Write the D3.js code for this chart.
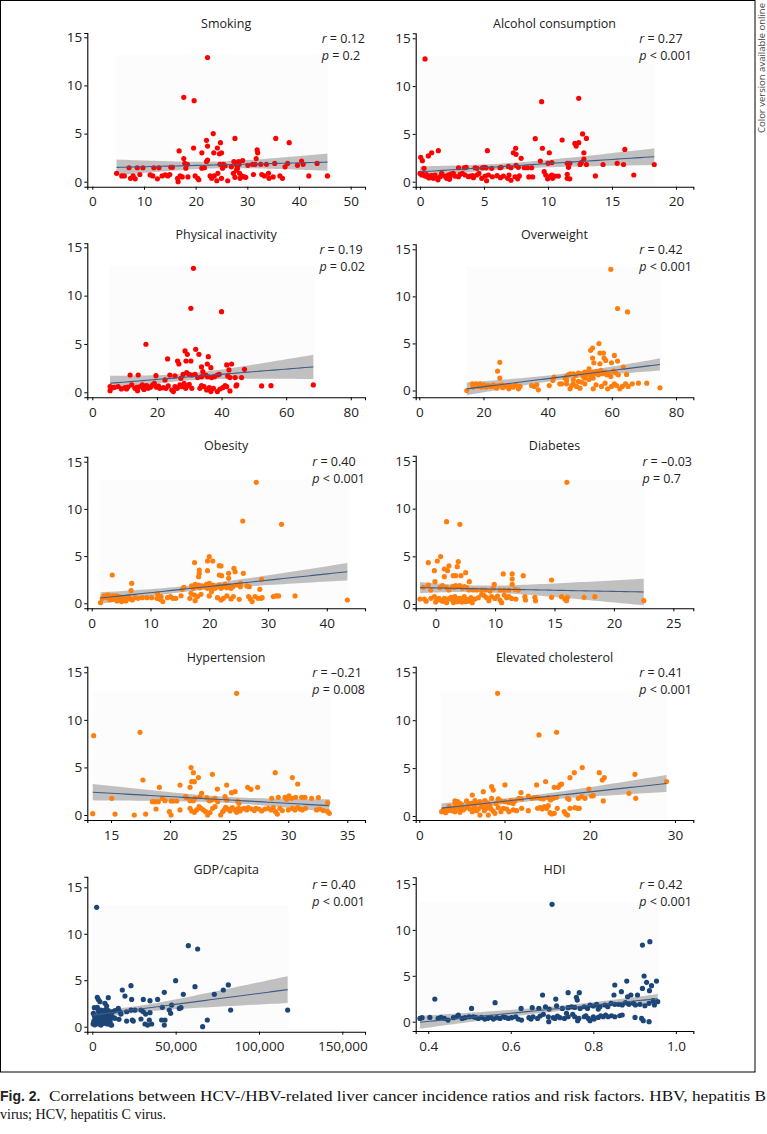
<!DOCTYPE html>
<html><head><meta charset="utf-8">
<script src="https://cdn.jsdelivr.net/npm/d3@7"></script>
<style>
body{margin:0;background:#fff}
svg{display:block}
.sans{font-family:'Open Sans',sans-serif}
</style>
</head><body>
<svg id="c" width="767" height="1134"></svg>
<script>
// ---------------- DATA ----------------
const titles = ["Smoking","Alcohol consumption","Physical inactivity","Overweight","Obesity","Diabetes","Hypertension","Elevated cholesterol","GDP/capita","HDI"];
const rValues = ["0.12","0.27","0.19","0.42","0.40","\u20130.03","\u20130.21","0.41","0.40","0.42"];
const pValues = ["= 0.2","< 0.001","= 0.02","< 0.001","< 0.001","= 0.7","= 0.008","< 0.001","< 0.001","< 0.001"];

const smoking = [[22.3,12.9],[17.7,8.76],[19.7,8.42],[23.4,5.0],[22.1,4.3],[22.3,3.7],[24.8,4.05],[27.6,4.5],[35.5,4.5],[38.1,4.05],[16.8,3.2],[19.6,3.5],[21.2,3.0],[23.5,3.0],[24.2,3.5],[24.6,2.9],[25.0,3.0],[31.9,3.3],[32,3.0],[31.7,2.4],[17.7,2.4],[17.9,1.9],[18.4,1.8],[22.1,2.1],[22.3,2.25],[27.4,2.1],[27.8,1.9],[29.1,2.2],[30.1,1.7],[31.0,1.8],[31.5,1.8],[32.6,1.8],[33.7,1.8],[35.3,1.9],[37.3,1.55],[37.8,1.9],[39.7,1.7],[40.5,2.15],[40.8,1.8],[43.5,1.9],[4.7,0.87],[5.7,0.6],[6.2,0.6],[7.1,1.45],[7.4,0.35],[7.9,0.6],[8.3,0.3],[8.7,1.45],[9.2,0.75],[9.8,1.45],[11.2,0.7],[11.7,0.6],[11.9,1.45],[12.6,0.3],[12.9,1.45],[13.5,0.6],[14.1,0.7],[14.6,0.6],[15.0,0.75],[15.2,1.5],[15.5,1.5],[16.5,0.35],[16.6,0.0],[17.0,0.6],[17.4,0.5],[18.1,1.4],[18.5,0.5],[19.9,0.6],[20.4,0.35],[20.6,0.2],[21.2,1.4],[21.7,1.45],[22.8,0.6],[23.1,0.35],[23.6,0.6],[24.1,0.1],[24.3,0.87],[24.7,1.8],[25,0.35],[25.2,1.4],[25.4,1.8],[25.7,1.65],[26.2,0.1],[26.9,1.55],[27.3,0.87],[27.6,0.45],[27.9,1.2],[28.1,1.4],[28.5,0.87],[28.6,0.35],[28.9,0.6],[29.4,0.5],[29.7,0.45],[31.2,0.75],[32.8,0.75],[33.3,0.6],[34.1,0.87],[34.2,0.35],[35.0,0.5],[36.3,0.6],[36.8,0.35],[41.9,0.6],[45.5,0.6],[27.9,1.75],[28.3,2.1],[28.4,1.8]];

const alcohol = [[0.39,12.84],[9.5,8.37],[12.4,8.72],[0.05,2.55],[0.18,2.2],[0.31,1.4],[0.65,2.7],[0.91,3.03],[1.43,3.25],[5.26,3.25],[7.47,3.5],[7.29,3.03],[7.5,2.86],[7.9,2.44],[9.0,4.5],[9.56,3.5],[9.4,2.16],[10.1,3.03],[11.1,4.36],[12.1,4.0],[12.2,3.73],[12.4,4.08],[12.7,5.0],[13.0,4.53],[12.8,3.03],[12.8,2.37],[16.0,3.38],[9.7,1.05],[10.0,1.92],[10.3,2.0],[11.5,1.92],[11.7,1.92],[12.5,1.8],[12.6,2.0],[13.0,1.8],[14.3,1.8],[15.4,1.92],[15.9,1.8],[18.3,1.8],[13.7,0.6],[16.7,0.7],[11.5,0.77],[11.5,0.35],[11.7,0.3],[11.6,1.5],[0,0.87],[0.13,0.7],[0.39,0.59],[0.6,0.52],[0.86,0.63],[1.04,0.35],[1.17,0.7],[1.3,0.35],[1.56,0.52],[1.69,0.87],[1.9,0.59],[2.08,0.35],[2.21,0.7],[2.34,0.52],[2.6,0.87],[2.73,0.59],[3.0,0.52],[3.13,0.77],[3.31,0.87],[3.52,0.7],[3.9,0.59],[4.17,0.42],[4.43,0.7],[4.6,0.87],[0.2,0.8],[0.5,0.75],[0.7,0.4],[1.0,0.6],[1.4,0.2],[2.3,0.25],[2.4,0.8],[3.0,1.46],[3.46,1.46],[3.6,1.5],[4.3,1.46],[4.45,1.4],[4.87,1.46],[5.03,1.5],[5.16,1.46],[5.6,1.4],[6.25,1.46],[6.33,1.5],[6.9,1.6],[7.1,1.46],[7.5,1.7],[7.68,1.5],[8.15,1.46],[8.39,1.46],[8.72,1.46],[3.78,0.52],[4.09,0.63],[4.82,0.35],[5.08,0.59],[5.34,0.7],[5.65,0.52],[6.02,0.63],[6.28,0.42],[6.51,0.59],[6.85,0.35],[6.95,0.7],[7.42,0.52],[7.63,0.3],[7.76,0.6],[5.2,0.1],[7.1,0.15],[9.82,0.7],[9.97,0.3],[10.08,0.52],[10.29,0.7],[10.36,0.35],[10.55,0.59],[10.81,0.59],[8.5,0.5],[8.8,0.5]];

const physical = [[31.3,12.83],[30.5,8.69],[40,8.34],[16.6,4.97],[28.7,4.28],[29.4,3.93],[32,4.45],[33,3.93],[23.3,3.45],[35.9,3.69],[26.4,3.24],[26.8,2.93],[29,3.24],[30.5,3.24],[35.6,2.93],[36.7,2.55],[33.8,2.62],[34.2,2.14],[43.1,2.93],[41.6,2.83],[47.1,2.38],[11.7,1.79],[14.2,1.79],[19.7,1.72],[22.5,1.28],[24,1.79],[25.6,1.69],[27.4,1.45],[28.1,1.86],[29.2,2.03],[29.9,1.86],[30.8,1.79],[31.8,1.86],[32.6,1.52],[33.8,1.62],[35.1,1.79],[35.7,1.62],[36.9,1.52],[37.8,1.62],[38.7,1.79],[39.3,1.86],[42.3,2.31],[41.9,1.69],[42.6,1.52],[44.2,1.52],[46.2,1.52],[44.7,0.76],[44.5,0.66],[52.4,0.66],[55.3,0.69],[68.4,0.76],[5.5,0.59],[5.5,0.17],[6.2,0.48],[6.8,0.52],[10.1,0.48],[10.6,0.34],[12.2,0.76],[13.2,0.41],[14.0,0.17],[14.8,0.59],[15.5,0.76],[15.8,0.41],[16.8,0.69],[17.3,0.41],[18.2,0.59],[18.7,0.76],[19.2,0.93],[19.9,0.52],[20.9,0.41],[22,0.48],[22.8,0.41],[23.5,0.66],[24.6,0.24],[25.1,0.07],[25.6,0.59],[26.3,0.41],[27.1,0.76],[27.7,0.59],[28.4,0.93],[28.9,0.41],[29.5,0.69],[30,0.83],[30.8,0.41],[33.3,0.41],[33.8,0.69],[34.6,0.59],[35.4,0.24],[36.2,0.48],[36.7,0.07],[37.5,0.41],[38.7,0.07],[39.5,0.34],[40.4,0.48],[41.1,0.69],[41.6,0.59],[42.6,0.14],[8.0,0.6],[9.0,0.35],[11.0,0.55],[13.8,0.5],[16.0,0.3],[17.8,0.5],[20.5,0.65]];

const overweight = [[59.7,12.87],[61.8,8.71],[64.9,8.35],[56,4.98],[53.4,4.27],[54,4.51],[57.4,3.98],[56.3,3.98],[54,3.45],[57.6,3.45],[58.1,3.2],[60.8,3.73],[61.8,3.13],[54.4,2.95],[56.3,2.84],[59.9,2.95],[63.6,2.49],[25.1,2.99],[24.4,2.06],[25.1,1.32],[52.9,2.31],[64.6,1.71],[45.9,1.49],[46.4,1.67],[47.0,1.78],[48.0,1.78],[48.7,1.6],[49.6,1.85],[50.6,1.78],[51.1,1.49],[51.6,1.96],[52.2,1.67],[52.9,1.85],[53.5,1.6],[54.2,1.96],[54.8,1.78],[55.3,2.03],[55.8,1.67],[56.6,2.13],[57.0,1.78],[57.9,1.96],[58.4,1.67],[59.1,1.78],[59.7,1.49],[60.5,2.06],[61.2,1.88],[62.0,1.67],[45.9,1.07],[48.0,1.14],[49.6,0.96],[51.6,1.32],[52.9,1.17],[54.2,1.32],[47.0,0.18],[47.5,0.53],[49.0,0.43],[50.1,0.25],[51.6,0.71],[54.2,0.18],[55.1,0.6],[56.8,0.43],[57.9,0.78],[58.7,0.18],[59.9,0.43],[60.8,0.71],[61.5,0.53],[62.5,0.18],[63.3,0.43],[64.3,0.71],[65.1,0.43],[66.4,0.71],[68.3,0.78],[70.9,0.78],[75.0,0.28],[45.9,0.71],[48.0,0.71],[50.6,0.89],[40.5,0.53],[41.6,1.07],[42.0,1.42],[43.8,0.71],[44.4,0.71],[45.4,1.32],[14.8,0],[16.5,0.71],[16.8,0.36],[17.6,0.71],[18.4,0.43],[18.9,0.71],[19.4,0.36],[20.2,0.6],[20.8,0.36],[21.5,0.53],[22.3,0.43],[23.1,0.6],[23.6,0.36],[24.1,0.25],[24.6,0.53],[25.7,0.6],[26.5,0.43],[27.2,0.53],[27.9,0.18],[28.6,0.43],[29.3,0.36],[30.0,0.6],[30.9,0.18],[31.4,0.43],[35.0,0.53],[35.8,0.43],[36.6,0.6],[37.1,0.07],[17.0,0.5],[19.0,0.55],[21.0,0.45],[26.0,0.3],[28.0,0.55]];

const obesity = [[28,12.81],[25.7,8.72],[32.3,8.37],[20,4.94],[17.5,4.31],[19.7,4.48],[20.6,4.48],[21.7,3.99],[22,3.95],[24.2,3.71],[24.4,3.35],[25.8,3.18],[18.3,3.53],[18.3,3.18],[18.2,2.82],[19.7,3.46],[23.3,3.18],[21.7,3.0],[22.1,2.93],[23.3,2.65],[25.3,2.12],[25.3,1.76],[28.9,2.54],[3.5,3.0],[6.8,2.12],[6.7,1.34],[15.7,1.69],[15.4,1.48],[28.6,1.48],[17.0,1.84],[17.3,1.59],[17.6,2.01],[17.9,1.76],[18.2,1.94],[18.4,1.66],[18.7,1.84],[19.2,1.76],[19.5,2.01],[19.7,1.59],[20.0,2.12],[20.3,1.69],[20.6,1.94],[21.0,1.59],[21.3,1.76],[21.7,1.94],[22.0,1.59],[22.3,1.76],[22.7,2.01],[23.0,1.66],[23.3,1.87],[23.7,1.59],[24.0,1.76],[24.6,1.94],[26.4,1.84],[26.8,1.76],[16.9,1.06],[17.5,0.88],[18.0,0.71],[18.6,0.95],[16.7,0.53],[17.6,0.28],[20.0,0.78],[20.4,1.24],[21.4,0.6],[22.0,0.35],[22.4,0.53],[23.0,0.78],[23.7,0.46],[24.1,0.71],[25.1,0.42],[26.7,0.71],[27.0,0.46],[27.3,0.18],[27.8,0.71],[28.3,0.53],[28.8,0.53],[29.0,0.6],[30.9,0.71],[31.4,0.78],[31.8,0.78],[34.6,0.78],[43.5,0.35],[1.5,0.07],[1.8,0.53],[2.1,0.78],[2.4,0.71],[2.7,0.88],[3.1,0.35],[3.4,0.6],[3.7,0.42],[4.0,0.71],[4.3,0.25],[4.5,0.6],[4.8,0.46],[5.1,0.18],[5.6,0.53],[5.8,0.25],[6.1,0.6],[6.5,0.46],[6.9,0.35],[7.4,0.6],[7.9,0.53],[8.6,0.6],[9.4,0.6],[10.2,0.6],[11.1,0.53],[11.6,0.42],[12.1,0.18],[12.9,0.6],[13.4,0.71],[13.8,0.53],[14.3,0.53],[2.6,0.6],[3.0,0.8],[3.6,0.78],[4.2,0.8],[4.7,0.7],[5.3,0.55],[6.3,0.7],[11.2,1.0],[11.8,0.7],[15.2,0.8]];

const diabetes = [[16.04,12.76],[5.92,8.64],[7.04,8.36],[5.42,4.97],[4.38,4.34],[5.14,4.51],[6.9,4.44],[6.82,3.92],[6.12,3.99],[5.73,3.67],[6.0,3.5],[4.89,3.5],[7.52,3.29],[6.48,2.97],[6.68,2.97],[7.13,2.97],[5.73,2.87],[4.94,2.34],[7.83,2.34],[10.69,3.15],[11.44,3.15],[11.44,2.62],[11.44,2.06],[12.37,2.97],[14.75,2.52],[9.93,2.06],[3.96,1.75],[4.38,1.99],[4.58,1.47],[5.36,1.71],[5.56,1.92],[5.92,1.71],[6.12,1.47],[6.43,1.82],[6.57,1.71],[6.68,1.92],[6.85,1.82],[7.04,1.92],[7.24,1.64],[7.41,1.82],[7.61,1.71],[7.8,1.47],[8.17,1.47],[8.45,1.47],[8.87,1.47],[9.2,1.47],[9.57,1.36],[9.85,1.64],[10.41,1.47],[10.77,1.47],[11.16,1.47],[11.67,1.54],[11.95,1.47],[3.68,0.52],[4.05,0.52],[4.89,0.77],[5.08,0.42],[5.28,0.59],[5.5,0.35],[5.73,0.59],[5.92,0.14],[6.2,0.59],[6.4,0.42],[6.62,0.77],[6.85,0.24],[7.04,0.59],[7.18,0.35],[7.41,0.77],[7.55,0.24],[7.97,0.66],[8.08,0.14],[8.31,0.52],[8.59,0.66],[8.87,1.01],[9.09,0.87],[9.29,0.66],[9.48,0.35],[9.71,0.77],[9.99,0.59],[10.21,0.84],[10.41,0.42],[10.55,0.14],[10.77,0.94],[10.97,0.66],[11.16,0.77],[11.39,0.59],[11.75,0.52],[12.51,0.77],[12.56,0.42],[13.35,0.7],[13.4,0.35],[14.75,0.7],[15.59,0.77],[15.87,0.52],[16.01,0.35],[16.09,0.7],[17.49,0.7],[18.39,0.77],[22.51,0.35],[5.6,0.3],[6.0,0.5],[6.3,0.7],[6.7,0.4],[7.3,0.5],[7.7,0.45],[4.2,0.3],[4.6,0.6],[5.0,0.2],[5.2,0.45],[6.5,0.15],[6.9,0.55],[7.2,0.2],[7.9,0.3]];

const hypertension = [[25.63,12.79],[17.45,8.69],[13.53,8.34],[21.77,4.98],[21.97,4.45],[23.58,4.28],[22.4,3.93],[28.9,4.45],[30.35,3.93],[30.8,3.26],[17.7,3.68],[20.84,3.15],[21.69,2.91],[19.09,2.91],[24.79,3.15],[21.83,3.5],[22.05,3.5],[26.57,2.91],[26.85,2.7],[27.41,2.91],[24.0,2.73],[25.5,2.45],[25.2,2.35],[22.67,2.28],[22.53,1.93],[21.4,1.82],[15.06,1.75],[18.5,1.4],[18.72,1.4],[19.0,1.4],[19.34,1.75],[19.57,1.51],[20.08,1.47],[20.27,1.47],[20.56,1.47],[21.32,1.93],[21.69,1.51],[21.97,1.51],[22.11,1.75],[23.1,1.82],[23.32,1.51],[23.52,1.58],[23.8,1.75],[24.03,1.4],[24.65,1.93],[24.79,1.58],[25.72,1.47],[25.83,1.23],[28.6,1.75],[29.16,1.86],[29.72,1.86],[29.87,1.65],[30.06,2.0],[30.29,1.75],[30.63,1.86],[31.14,1.86],[31.42,1.86],[31.98,1.75],[32.55,1.82],[33.34,1.3],[13.45,0.14],[15.34,0.1],[16.97,0],[17.93,0.1],[18.81,0.63],[19.94,0.35],[20.08,0],[20.84,0.53],[21.69,0.7],[21.83,0.42],[22.05,0.28],[22.25,0.53],[22.45,0.88],[22.62,0.7],[22.81,0.53],[23.01,0.35],[23.18,0],[23.38,0.25],[23.6,0.7],[23.8,0.88],[24.28,0],[24.45,0.35],[24.59,0.53],[24.7,0.81],[24.93,0.63],[25.07,0.42],[25.27,0.77],[25.49,0.53],[25.63,0.28],[25.78,0.7],[25.92,0.42],[26.06,0.63],[26.28,0.7],[26.48,0.53],[26.62,0.77],[26.9,0.63],[27.13,0.46],[27.27,0.7],[27.52,0.63],[27.75,0.42],[28.03,0.63],[28.31,0.7],[28.54,0.53],[28.74,0.77],[28.93,0.35],[29.08,0.1],[29.3,0.7],[29.5,0.46],[30.01,0.53],[30.35,0.7],[30.57,0.53],[30.8,0.77],[31.0,0.63],[31.19,0.53],[31.47,0.7],[32.4,0.53],[32.69,0.63],[32.97,0.46],[33.34,0.35],[33.48,0.18]];

const cholesterol = [[9.19,12.81],[14.04,8.46],[16.11,8.74],[19.12,5.05],[18.19,4.52],[21.12,4.52],[25.3,4.35],[17.68,4.0],[21.71,4.0],[21.47,3.76],[14.82,3.59],[13.77,3.24],[10.05,3.24],[16.7,3.34],[15.84,2.99],[16.31,2.99],[16.5,3.24],[8.49,3.06],[8.68,2.71],[7.51,2.54],[6.22,2.19],[11.93,2.44],[19.9,2.82],[20.41,2.12],[24.6,2.37],[21.59,1.57],[25.4,1.84],[29.0,3.59],[4.18,1.57],[4.5,1.5],[4.77,1.32],[5.55,1.57],[6.14,1.32],[6.53,1.6],[7.12,1.5],[7.7,1.6],[8.02,1.32],[8.49,1.84],[9.27,1.78],[9.58,1.57],[10.05,1.5],[10.75,1.6],[11.22,1.57],[11.69,1.84],[12.01,1.78],[12.79,2.09],[13.18,1.84],[13.49,1.91],[13.84,1.95],[14.16,1.84],[14.55,1.78],[15.13,1.91],[15.41,1.67],[15.72,1.84],[16.11,1.95],[17.4,1.84],[17.56,1.74],[18.65,1.84],[19.05,2.02],[19.44,1.84],[20.22,2.09],[2.62,0.45],[2.82,0.63],[3.09,0.35],[3.32,0.56],[3.6,0.8],[3.79,0.56],[3.99,0.8],[4.18,0.45],[4.38,0.97],[4.58,0.7],[4.77,0.38],[4.97,0.87],[5.16,0.63],[5.36,0.8],[5.67,1.04],[5.94,0.73],[6.22,0.45],[6.45,0.87],[6.73,0.56],[6.92,0.73],[7.12,0.1],[7.31,0.97],[7.63,0.56],[7.9,0.8],[8.1,0.1],[8.41,0.73],[8.68,0.52],[8.88,0.28],[9.27,0.87],[9.58,0.45],[9.86,0.8],[10.25,0.73],[10.52,0.45],[11.03,0.63],[11.42,0.56],[12.01,0.8],[12.79,0.56],[13.88,0.8],[14.16,0.87],[14.43,0.73],[14.67,0.97],[14.94,0.8],[15.13,1.08],[15.33,0.35],[15.53,0.21],[15.84,0.28],[16.19,0.8],[17.01,0.45],[17.21,0.21],[17.4,0.1],[17.68,0.8],[18.26,0.87],[18.58,0.8],[18.77,0.8],[3.5,1.0],[4.2,1.3],[4.6,1.2],[5.0,1.1],[5.8,1.3],[6.5,1.2],[7.0,1.4],[7.8,1.2],[8.3,1.1],[9.0,1.3],[10.5,1.4],[11.0,1.3]];

const gdp = [[2600,12.85],[57600,8.72],[63200,8.36],[50000,4.95],[23200,4.41],[61600,4.31],[81600,4.49],[78600,3.95],[73200,3.48],[54600,3.48],[43200,3.7],[18000,3.95],[19600,3.3],[39200,2.94],[34600,2.8],[30600,2.94],[23600,2.94],[3000,3.16],[3600,2.94],[4600,2.69],[9600,3.12],[7600,2.51],[8600,2.22],[3000,2.08],[1200,2.05],[42000,2.08],[47600,2.33],[46200,1.79],[47000,1.44],[52200,1.97],[53200,2.05],[83000,1.79],[117200,1.79],[34600,1.51],[29200,1.79],[30600,1.61],[32000,1.36],[25600,1.79],[23200,1.79],[20600,1.61],[15600,1.97],[16600,1.61],[17200,1.36],[13600,1.72],[12000,1.61],[600,1.44],[1200,1.18],[1600,0.9],[2000,0.61],[2600,0.36],[3200,1.08],[3600,0.83],[4000,1.44],[4600,0.61],[5200,0.18],[5600,1.18],[6000,1.61],[6600,0.9],[7200,0.54],[7600,1.33],[8000,1.72],[8600,1.08],[9200,0.72],[9600,1.72],[10000,1.26],[10600,0.54],[11200,0.9],[11600,0.18],[12000,1.08],[1600,0.45],[2600,0.75],[3600,1.72],[5200,1.79],[5600,1.44],[6600,0.4],[7600,1.79],[8600,0.5],[500,0.3],[900,0.6],[1500,0.2],[2200,1.0],[3800,0.3],[4200,1.2],[5000,0.5],[6300,0.35],[7000,1.0],[8200,0.4],[9000,0.3],[10500,0.55],[11000,0.2],[20600,0.61],[24000,0.72],[24600,0.61],[29200,0.83],[31600,0.29],[33200,0.18],[34200,0.72],[35600,0.29],[41600,0.72],[43600,0.72],[43200,0.18],[66200,0.0],[69000,0.72],[16000,0.79],[13600,0.9]];

const hdi = [[0.700,12.79],[0.919,8.35],[0.937,8.72],[0.923,4.98],[0.929,4.29],[0.953,4.43],[0.941,3.92],[0.881,4.43],[0.852,4.0],[0.919,3.63],[0.936,3.38],[0.416,2.47],[0.562,2.07],[0.677,2.91],[0.709,2.47],[0.739,3.16],[0.766,3.16],[0.759,2.65],[0.761,2.36],[0.868,3.27],[0.891,2.91],[0.850,2.91],[0.883,2.72],[0.907,2.91],[0.945,2.29],[0.505,1.45],[0.625,1.45],[0.652,1.53],[0.668,1.45],[0.684,1.63],[0.693,1.38],[0.711,1.74],[0.725,1.45],[0.739,1.53],[0.747,1.63],[0.755,1.56],[0.768,1.45],[0.778,1.63],[0.786,1.45],[0.792,1.82],[0.8,1.71],[0.808,1.89],[0.816,1.63],[0.828,1.82],[0.835,1.63],[0.843,2.0],[0.852,1.89],[0.861,1.89],[0.87,1.82],[0.878,2.07],[0.886,1.89],[0.897,2.0],[0.902,1.82],[0.913,1.89],[0.925,1.74],[0.935,2.0],[0.948,1.82],[0.956,2.18],[0.812,1.38],[0.380,0.36],[0.385,0.44],[0.404,0.47],[0.424,0.36],[0.431,0.47],[0.439,0.36],[0.448,0.18],[0.461,0.44],[0.469,0.54],[0.473,0.73],[0.482,0.36],[0.489,0.44],[0.499,0.54],[0.509,0.54],[0.515,0.47],[0.521,0.36],[0.529,0.47],[0.537,0.29],[0.544,0.36],[0.552,0.47],[0.558,0.29],[0.566,0.44],[0.574,0.36],[0.582,0.54],[0.587,0.47],[0.594,0.36],[0.602,0.44],[0.612,0.54],[0.618,0.29],[0.626,0.18],[0.644,0.44],[0.649,0.29],[0.654,0.54],[0.665,0.36],[0.671,0.62],[0.679,0.8],[0.691,0.54],[0.692,0],[0.703,0.44],[0.707,0.36],[0.713,0.62],[0.719,0.44],[0.73,0.36],[0.735,0.91],[0.739,0.54],[0.75,0.8],[0.755,0.54],[0.762,0.11],[0.765,0.36],[0.778,0.54],[0.782,0.65],[0.788,0.36],[0.792,0.11],[0.8,0.54],[0.802,0.29],[0.812,0.47],[0.818,0.65],[0.824,0.54],[0.83,0.73],[0.836,0.54],[0.844,0.65],[0.852,0.54],[0.864,0.65],[0.87,0.73],[0.901,0.47],[0.917,0.36],[0.921,0.11],[0.935,0]];

const yTicks = [0,5,10,15];
const xTickValues = [[0,10,20,30,40,50],[0,5,10,15,20],[0,20,40,60,80],[0,20,40,60,80],[0,10,20,30,40],[5,10,15,20,25],[15,20,25,30,35],[0,10,20,30],[0,50000,100000,150000],[0.4,0.6,0.8,1.0]];
const xTickLabels = [null,null,null,null,null,["0","10","15","20","25"],null,null,["0","50,000","100,000","150,000"],["0.4","0.6","0.8","1.0"]];
const xDomains = [[-0.97,52.77],[-0.34,21.35],[-1.55,84.4],[-1.12,85.4],[-0.75,46.5],[3.32,26.68],[12.99,36.5],[-0.42,32.15],[-3000,163600],[0.3697,1.0422]];
const datasets = [smoking,alcohol,physical,overweight,obesity,diabetes,hypertension,cholesterol,gdp,hdi];
const colors = ["#ff0000","#ff0000","#ff0000","#ff7f0e","#ff7f0e","#ff7f0e","#ff7f0e","#ff7f0e","#1b4677","#1b4677"];
const captionLines = ["Correlations between HCV-/HBV-related liver cancer incidence ratios and risk factors. HBV, hepatitis B","virus; HCV, hepatitis C virus."];

// ---------------- LAYOUT ----------------
const colX = [{x0:87.3,x1:365,tr:365},{x0:415.7,x1:693.3,tr:692}];
const rowLayout = [
  {t:27.8, L:{top:33,bot:186.7,y0:181.7,y15:37.3}, R:{top:33.3,bot:186.7,y0:181.7,y15:38.3}},
  {t:238.5,L:{top:243.3,bot:397.3,y0:392.3,y15:247.3}, R:{top:244.3,bot:397.3,y0:390.5,y15:249.3}},
  {t:450, L:{top:456.7,bot:608.3,y0:603.3,y15:461.7}, R:{top:455.7,bot:608.3,y0:604,y15:461}},
  {t:661.5,L:{top:666.7,bot:820,y0:815,y15:672.3}, R:{top:666.7,bot:820,y0:816,y15:672.3}},
  {t:873.5,L:{top:876.7,bot:1031.7,y0:1026.7,y15:887.3}, R:{top:877.3,bot:1031,y0:1021.7,y15:884}}
];

const svg = d3.select("#c");

function regress(data){
  const n=data.length, mx=d3.mean(data,d=>d[0]), my=d3.mean(data,d=>d[1]);
  let sxx=0,sxy=0; data.forEach(d=>{sxx+=(d[0]-mx)**2; sxy+=(d[0]-mx)*(d[1]-my);});
  const b=sxy/sxx, a=my-b*mx;
  let sse=0; data.forEach(d=>{sse+=(d[1]-a-b*d[0])**2;});
  const s=Math.sqrt(sse/(n-2)), t=1.976;
  const [lo,hi]=d3.extent(data,d=>d[0]);
  return d3.range(0,51).map(i=>{
    const x=lo+(hi-lo)*i/50, yh=a+b*x, se=s*Math.sqrt(1/n+(x-mx)**2/sxx);
    return {x, y:yh, l:yh-t*se, u:yh+t*se};
  });
}

datasets.forEach((data,i)=>{
  const row=Math.floor(i/2), col=i%2;
  const c=colX[col], R=rowLayout[row], Y=col?R.R:R.L;
  const x=d3.scaleLinear().domain(xDomains[i]).range([c.x0,c.x1]);
  const yb=d3.scaleLinear().domain([0,15]).range([Y.y0,Y.y15]);
  const y=d3.scaleLinear().domain([yb.invert(Y.bot),yb.invert(Y.top)]).range([Y.bot,Y.top]);
  const g=svg.append("g");

  const [xmn,xmx]=d3.extent(data,d=>d[0]);
  const ymx=d3.max(data,d=>d[1]);
  g.append("rect").attr("x",x(xmn)-1).attr("width",x(xmx)-x(xmn)+2)
    .attr("y",y(ymx+0.25)).attr("height",Y.bot-y(ymx+0.25)-1)
    .attr("fill","#fcfcfd");

  const fit=regress(data);
  g.append("path").datum(fit)
    .attr("d",d3.area().x(d=>x(d.x)).y0(d=>y(d.l)).y1(d=>y(d.u)))
    .attr("fill","#bdbdbd").attr("opacity",0.95);

  g.append("g").selectAll("circle").data(data).join("circle")
    .attr("cx",d=>x(d[0])).attr("cy",d=>y(d[1])).attr("r",2.6)
    .attr("fill",colors[i]);

  g.append("path").datum(fit)
    .attr("d",d3.line().x(d=>x(d.x)).y(d=>y(d.y)))
    .attr("fill","none").attr("stroke","#3f5c85").attr("stroke-width",1.1);

  const xa=d3.axisBottom(x).tickValues(xTickValues[i]).tickSizeOuter(0).tickSize(3).tickPadding(7);
  if(xTickLabels[i]) xa.tickFormat((d,k)=>xTickLabels[i][k]);
  const gx=g.append("g").attr("transform",`translate(0,${Y.bot})`).call(xa);
  const ya=d3.axisLeft(y).tickValues(yTicks).tickSizeOuter(0).tickSize(3).tickPadding(2);
  const gy=g.append("g").attr("transform",`translate(${c.x0},0)`).call(ya);
  [gx,gy].forEach(a=>{
    a.select(".domain").attr("stroke","#000").attr("stroke-width",1.1);
    a.selectAll(".tick line").attr("stroke","#000");
    a.selectAll(".tick text").attr("class","sans").attr("font-size",13.5).attr("fill","#222");
  });

  g.append("text").attr("class","sans").attr("x",(c.x0+c.x1)/2).attr("y",R.t)
    .attr("text-anchor","middle").attr("font-size",12.5).attr("fill","#222").text(titles[i]);

  const t1=g.append("text").attr("class","sans").attr("y",R.t+15.5).attr("font-size",12.5).attr("fill","#222");
  t1.append("tspan").attr("font-style","italic").text("r");
  t1.append("tspan").text(" = "+rValues[i]);
  const t2=g.append("text").attr("class","sans").attr("y",R.t+32.5).attr("font-size",12.5).attr("fill","#222");
  t2.append("tspan").attr("font-style","italic").text("p");
  t2.append("tspan").text(" "+pValues[i]);
  const w=Math.max(t1.node().getComputedTextLength(),t2.node().getComputedTextLength());
  t1.attr("x",c.tr-w); t2.attr("x",c.tr-w);
});

// frame
svg.append("rect").attr("x",0.5).attr("y",0.5).attr("width",754.5).attr("height",1071.5)
  .attr("fill","none").attr("stroke","#000").attr("stroke-width",1);

// side note
svg.append("text").attr("class","sans").attr("transform","translate(765,3) rotate(-90)")
  .attr("text-anchor","end").attr("font-size",9.5).attr("fill","#444").text("Color version available online");

// caption
svg.append("text").attr("x",0).attr("y",1101).attr("font-family","'Liberation Sans',Arial,sans-serif")
  .attr("font-weight","bold").attr("font-size",14).attr("fill","#222").text("Fig. 2.");
svg.append("text").attr("x",49).attr("y",1101).attr("font-family","'Liberation Serif','Times New Roman',serif")
  .attr("font-size",15).attr("fill","#111").attr("textLength",717).attr("lengthAdjust","spacingAndGlyphs")
  .text(captionLines[0]);
svg.append("text").attr("x",0).attr("y",1119).attr("font-family","'Liberation Serif','Times New Roman',serif")
  .attr("font-size",15).attr("fill","#111").attr("textLength",166).attr("lengthAdjust","spacingAndGlyphs")
  .text(captionLines[1]);
</script>
</body></html>
